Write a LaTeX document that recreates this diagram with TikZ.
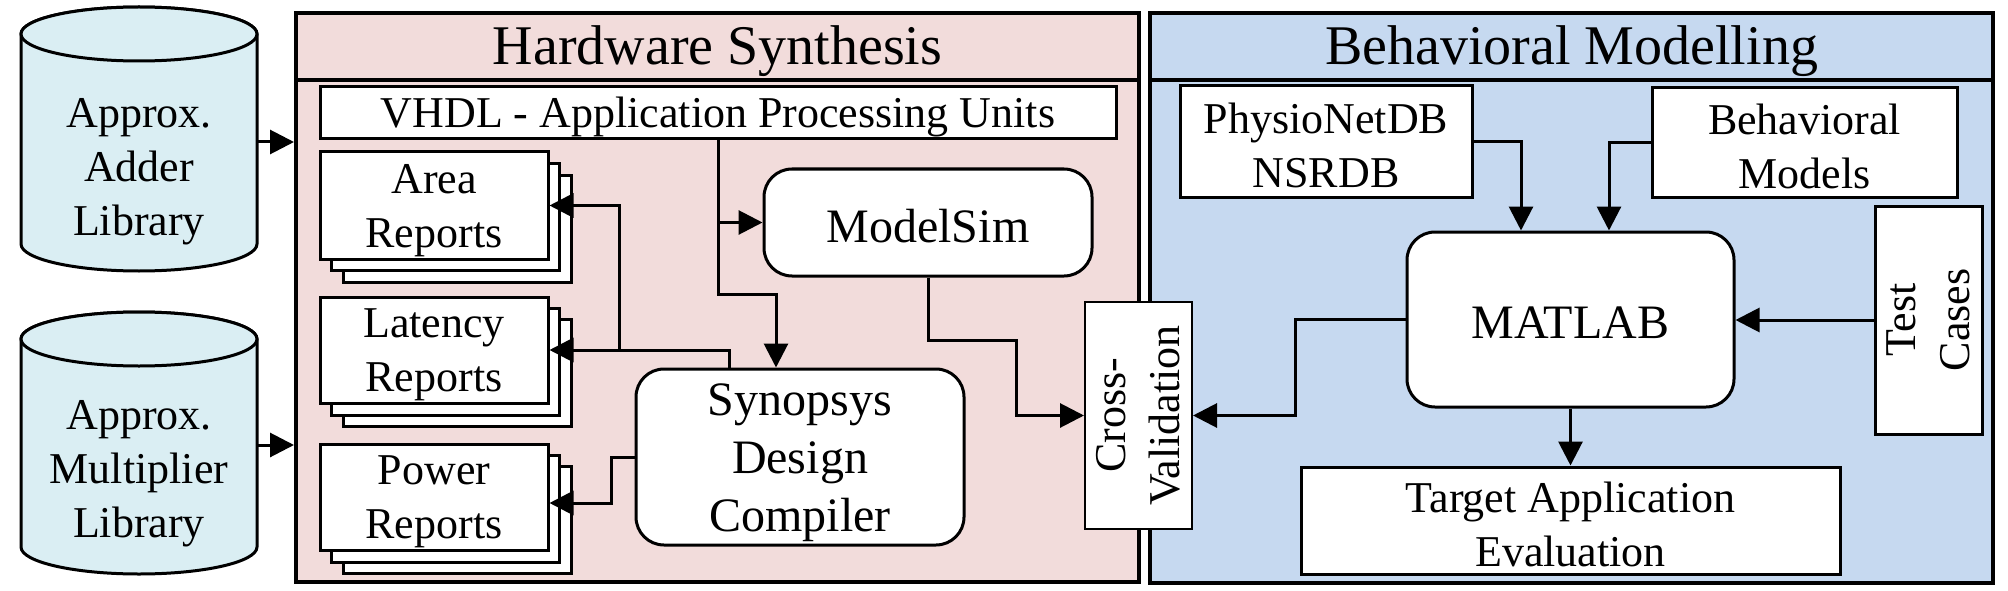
\documentclass[tikz,border=0pt]{standalone}
\usepackage{fontspec}
\setmainfont{Liberation Serif}
\usetikzlibrary{arrows.meta}
\definecolor{hwpink}{HTML}{F2DCDB}
\definecolor{bmblue}{HTML}{C6D9F0}
\definecolor{cylblue}{HTML}{DAEEF3}
\begin{document}
\begin{tikzpicture}[x=1pt,y=-1pt,
  box/.style={draw=black, line width=3pt, fill=white, inner sep=0pt},
  thinbox/.style={draw=black, line width=2pt, fill=white, inner sep=0pt},
  rbox/.style={box, rounded corners=28pt},
  frame/.style={draw=black, line width=4pt, inner sep=0pt},
  arr/.style={line width=3pt, -{Triangle[length=24pt,width=24pt]}},
  cyl/.style={draw=black, line width=3pt, fill=cylblue},
  t44/.style={font=\fontsize{44}{54}\selectfont, align=center},
  t48/.style={font=\fontsize{48}{58}\selectfont, align=center},
  t56/.style={font=\fontsize{56}{60}\selectfont}]
\useasboundingbox (0,0) rectangle (2008,591);

% ---------- cylinders ----------
\path[cyl] (21,34) -- (21,244) arc[start angle=180,end angle=360,x radius=118pt,y radius=27pt]
  -- (257,34) arc[start angle=0,end angle=180,x radius=118pt,y radius=27pt] -- cycle;
\draw[cyl] (139,34) ellipse [x radius=118pt, y radius=27pt];
\node[inner sep=0pt, minimum width=236pt, minimum height=264pt] (cyl1) at (139,142) {};
\node[t44] (cyl1t) at (139,172) {Approx.\\Adder\\Library};

\path[cyl] (21,339) -- (21,547) arc[start angle=180,end angle=360,x radius=118pt,y radius=27pt]
  -- (257,339) arc[start angle=0,end angle=180,x radius=118pt,y radius=27pt] -- cycle;
\draw[cyl] (139,339) ellipse [x radius=118pt, y radius=27pt];
\node[inner sep=0pt, minimum width=236pt, minimum height=262pt] (cyl2) at (139,445) {};
\node[t44] (cyl2t) at (139,474) {Approx.\\Multiplier\\Library};

% ---------- frames ----------
\node[frame, fill=hwpink, minimum width=843pt, minimum height=569pt] (hw) at (717.5,297.5) {};
\node[frame, fill=bmblue, minimum width=843pt, minimum height=570pt] (bm) at (1571.5,298) {};
\coordinate (sep) at (0,80);
\draw[line width=4pt] (hw.west |- sep) -- (hw.east |- sep);
\draw[line width=4pt] (bm.west |- sep) -- (bm.east |- sep);
\node[t56] (hwt) at (717.5,51) {Hardware Synthesis};
\node[t56] (bmt) at (1571.5,51) {Behavioral Modelling};

% ---------- hardware synthesis ----------
\node[box, minimum width=796pt, minimum height=52pt] (vhdl) at (718,113) {};
\node[t44] (vhdlt) at ([yshift=-4pt]vhdl.center) {VHDL - Application Processing Units};

\foreach \cy in {205.5,350,497}{
  \draw[box] (343,\cy-30.5) rectangle (571,\cy+76.5);
  \draw[box] (331.5,\cy-42) rectangle (559.5,\cy+65);
}
\node[box, minimum width=228pt, minimum height=107pt] (area) at (434,205.5) {};
\node[t44] (areat) at ([yshift=-5pt]area.center) {Area\\Reports};
\node[box, minimum width=228pt, minimum height=106pt] (lat) at (434,350) {};
\node[t44] (latt) at ([yshift=-5pt]lat.center) {Latency\\Reports};
\node[box, minimum width=228pt, minimum height=106pt] (pow) at (434,497) {};
\node[t44] (powt) at ([yshift=-5pt]pow.center) {Power\\Reports};

\node[rbox, minimum width=328pt, minimum height=107pt] (model) at (928,222.5) {};
\node[t48] (modelt) at ([yshift=-4pt]model.center) {ModelSim};
\node[rbox, minimum width=328pt, minimum height=176pt] (synop) at (800,457) {};
\node[t48] (synopt) at ([yshift=-6pt]synop.center) {Synopsys\\Design\\Compiler};

% ---------- behavioral modelling ----------
\node[box, minimum width=292pt, minimum height=111pt] (physio) at (1326,141.5) {};
\node[t44] (physiot) at ([yshift=-4pt]physio.center) {PhysioNetDB\\NSRDB};
\node[box, minimum width=305pt, minimum height=109pt] (behav) at (1804.5,142.5) {};
\node[t44] (behavt) at ([yshift=-4pt]behav.center) {Behavioral\\Models};
\node[rbox, minimum width=327pt, minimum height=175pt] (matlab) at (1570.5,319.5) {};
\node[t48] (matlabt) at ([yshift=-3pt]matlab.center) {MATLAB};
\node[box, minimum width=107pt, minimum height=228pt] (test) at (1928.5,320) {};
\node[t44, rotate=90] (testt) at (test.center) {Test\\Cases};
\node[box, minimum width=539pt, minimum height=107pt] (target) at (1570.5,520.5) {};
\node[t44] (targett) at ([yshift=-4pt]target.center) {Target Application\\Evaluation};

% cross-validation
\node[thinbox, minimum width=107pt, minimum height=227pt] (cv) at (1138.5,415.5) {};
\node[t44, rotate=90] (cvt) at (cv.center) {Cross-\\Validation};

% ---------- connectors ----------
\draw[arr] (cyl1.east) -- (cyl1.east -| hw.west);
\draw[arr] (cyl2.east) -- (cyl2.east -| hw.west);

\draw[arr] (vhdl.south) -- ++(0,154) -| ([xshift=-24pt]synop.north);
\draw[arr] (vhdl.south |- model.west) -- (model.west);
\draw[arr] (model.south) |- (1016,340) |- (cv.west);

\coordinate (j1) at (619,350);
\draw[arr] ([xshift=-71pt]synop.north) |- (lat.east);
\draw[arr] (j1) |- (area.east);
\draw[arr] (synop.west) -- ++(-23,0) |- ([yshift=-6pt]pow.east);

\draw[arr] (physio.east) -| ([xshift=-49.5pt]matlab.north);
\draw[arr] (behav.west) -| ([xshift=38.5pt]matlab.north);
\draw[arr] (test.west) -- (test.west -| matlab.east);
\draw[arr] (matlab.west) -- ++(-110,0) |- (cv.east);
\draw[arr] (matlab.south) -- (matlab.south |- target.north);
\end{tikzpicture}
\end{document}
